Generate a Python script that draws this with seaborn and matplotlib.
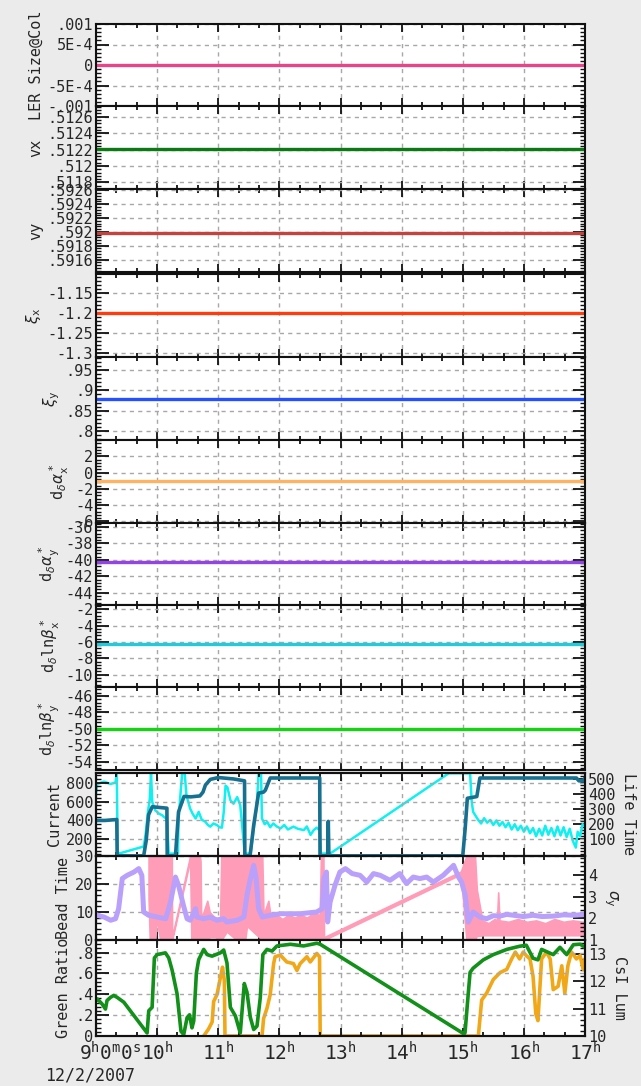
import matplotlib
matplotlib.use("Agg")
import matplotlib.pyplot as plt
import matplotlib.transforms as mtransforms
from matplotlib.ticker import AutoMinorLocator, MultipleLocator
import seaborn as sns

# ---------------- data (time in hours of 12/2/2007) ----------------
hours = [9, 10, 11, 12, 13, 14, 15, 16, 17]
hour_labels = [r'$\mathtt{9}^{\mathtt{h}}\mathtt{0}^{\mathtt{m}}\mathtt{0}^{\mathtt{s}}$'] + \
              [r'$\mathtt{%d}^{\mathtt{h}}$' % h for h in hours[1:]]
date_label = '12/2/2007'

span_t = [9.0, 17.0]
ler_size = [0.0, 0.0]
nu_x = [0.51221, 0.51221]
nu_y = [0.59199, 0.59199]
xi_x = [-1.2, -1.2]
xi_y = [0.880, 0.880]
dalpha_x = [-1.0, -1.0]
dalpha_y = [-40.3, -40.3]
dlnbeta_x = [-6.3, -6.3]
dlnbeta_y = [-50.0, -50.0]

# beam current (left) and life time (right)
current_t = [9.0, 9.15, 9.34, 9.346, 9.78, 9.82, 9.86, 9.92, 10.0, 10.16, 10.165, 10.30, 10.35,
             10.44, 10.55, 10.70, 10.75, 10.79, 10.87, 11.0, 11.25, 11.43, 11.435, 11.52, 11.58,
             11.66, 11.74, 11.77, 11.85, 12.0, 12.66, 12.665, 12.79, 12.80, 12.81, 15.0, 15.04,
             15.075, 15.23, 15.28, 16.0, 16.86, 16.9, 16.97, 17.0]
current = [400, 400, 410, 25, 25, 180, 460, 545, 540, 530, 25, 25, 490,
           655, 650, 660, 700, 775, 835, 855, 840, 820, 25, 25, 350,
           690, 700, 720, 850, 850, 850, 25, 25, 390, 25, 25, 317,
           635, 653, 850, 850, 850, 820, 820, 850]

life_t = [9.0, 9.02, 9.13, 9.24, 9.32, 9.34, 9.355, 9.40, 9.78, 9.81, 9.85, 9.88, 9.90, 9.92,
          9.97, 10.03, 10.08, 10.12, 10.16, 10.19, 10.34, 10.35, 10.41, 10.45, 10.48, 10.54,
          10.58, 10.63, 10.68, 10.73, 10.79, 10.83, 10.87, 10.92, 10.98, 11.02, 11.06, 11.09,
          11.12, 11.15, 11.20, 11.25, 11.31, 11.36, 11.42, 11.43, 11.53, 11.58, 11.63, 11.66,
          11.70, 11.715, 11.76, 11.80, 11.85, 11.90, 11.96, 12.02, 12.08, 12.14, 12.23, 12.30,
          12.40, 12.45, 12.51, 12.56, 12.61, 12.657, 12.68, 12.83, 14.77, 15.12, 15.147, 15.17,
          15.25, 15.30, 15.35, 15.40, 15.45, 15.50, 15.55, 15.60, 15.65, 15.70, 15.75, 15.80,
          15.85, 15.90, 15.95, 16.00, 16.05, 16.10, 16.15, 16.20, 16.25, 16.30, 16.35, 16.40,
          16.45, 16.50, 16.55, 16.60, 16.65, 16.70, 16.75, 16.80, 16.85, 16.88, 16.92, 16.96, 17.0]
life_time = [402, 467, 483, 467, 478, 540, 5, 8, 52, 129, 282, 369, 540, 348,
             292, 270, 260, 245, 238, 5, 5, 238, 540, 540, 391, 304,
             270, 238, 282, 230, 216, 195, 184, 205, 194, 180, 177, 282,
             456, 445, 358, 336, 380, 326, 63, 5, 5, 172, 326, 540,
             540, 238, 200, 216, 180, 205, 184, 172, 195, 165, 184, 170,
             161, 185, 129, 160, 177, 161, 5, 5, 538, 538, 348, 282,
             230, 205, 240, 210, 228, 195, 225, 190, 215, 180, 210, 165,
             200, 160, 190, 150, 185, 140, 175, 120, 170, 125, 190, 130,
             175, 120, 185, 125, 180, 115, 170, 90, 45, 150, 120, 200, 190]

# bead time (left, noisy band lo..hi) and sigma_y (right)
bead_t = [9.86, 9.88, 9.97, 9.99, 10.05, 10.09, 10.10, 10.24, 10.245, 10.54, 10.56, 10.70, 10.71,
          10.72, 10.76, 10.82, 10.86, 10.90, 10.95, 11.03, 11.05, 11.14, 11.30, 11.44, 11.47,
          11.72, 11.74, 11.82, 11.86, 11.95, 12.05, 12.15, 12.25, 12.35, 12.45, 12.55, 12.66,
          12.68, 12.72, 12.73, 14.97, 15.06, 15.20, 15.23, 15.28, 15.32, 15.42, 15.52, 15.56,
          15.58, 15.60, 15.75, 15.90, 16.05, 16.20, 16.35, 16.50, 16.65, 16.80, 16.97]
bead_lo = [15, 0, 0, 8, 0, 0, 0, 0, 0, 28.5, 0, 0, 0,
           0, 0, 0, 1, 1, 1, 0, 0, 3, 0, 0, 5,
           0, 0, 0, 0, 0, 0, 0, 0, 0, 0, 0, 0,
           0, 0, 0, 23.5, 0, 0, 1.5, 1.5, 1.7, 1.7, 1.7, 1.7,
           1.7, 1.7, 1.7, 1.7, 1.7, 1.7, 1.7, 1.7, 1.7, 1.7, 1.7]
bead_hi = [30, 30, 30, 30, 30, 30, 30, 30, 1, 30, 30, 30, 28,
           8, 10, 14, 10, 9, 8, 8, 30, 30, 30, 30, 30,
           30, 9, 14, 8, 9, 7.5, 9, 8, 9, 8, 9.5, 9,
           30, 30, 1, 24.5, 30, 30, 18, 12, 7, 6, 7.5, 7,
           17, 7, 6.5, 7.5, 6.5, 7, 6, 7.5, 6.5, 7, 6.5]

sigma_t = [9.0, 9.07, 9.13, 9.24, 9.32, 9.37, 9.43, 9.51, 9.62, 9.70, 9.75, 9.78, 9.86, 10.0,
           10.14, 10.22, 10.30, 10.35, 10.43, 10.49, 10.54, 10.63, 10.65, 10.76, 10.87, 10.98,
           11.09, 11.14, 11.31, 11.42, 11.47, 11.52, 11.58, 11.62, 11.66, 11.72, 11.85, 12.02,
           12.18, 12.34, 12.61, 12.70, 12.73, 12.77, 12.79, 12.83, 12.91, 12.99, 13.08, 13.19,
           13.32, 13.43, 13.54, 13.65, 13.81, 13.97, 14.08, 14.19, 14.30, 14.41, 14.52, 14.68,
           14.85, 14.93, 14.98, 15.04, 15.09, 15.17, 15.28, 15.39, 15.50, 15.61, 15.72, 15.83,
           15.99, 16.15, 16.30, 16.48, 16.65, 16.81, 16.97]
sigma_y = [2.17, 2.10, 2.06, 1.91, 1.98, 2.44, 3.83, 3.98, 4.13, 4.29, 3.98, 2.29, 2.14, 2.06,
           1.98, 2.75, 3.90, 3.52, 2.60, 1.98, 1.91, 2.44, 2.06, 1.98, 2.05, 1.91,
           1.98, 1.83, 1.91, 2.06, 3.06, 3.75, 4.44, 3.83, 2.44, 2.06, 2.14, 2.21,
           2.21, 2.21, 2.29, 2.44, 3.83, 4.13, 1.83, 2.75, 3.52, 4.13, 4.29, 4.06,
           3.98, 3.67, 4.06, 3.98, 3.75, 4.06, 3.60, 3.90, 3.83, 3.90, 3.67, 3.98,
           4.44, 3.90, 3.67, 3.06, 1.83, 2.29, 2.06, 1.98, 2.12, 2.10, 2.18, 2.14,
           2.08, 2.14, 2.08, 2.10, 2.16, 2.14, 2.17]

# green ratio (left) and CsI luminosity (right)
green_t = [9.0, 9.02, 9.10, 9.155, 9.18, 9.237, 9.29, 9.346, 9.455, 9.836, 9.863, 9.918, 9.955,
           10.0, 10.135, 10.19, 10.244, 10.326, 10.39, 10.435, 10.49, 10.53, 10.57, 10.599,
           10.642, 10.68, 10.762, 10.817, 10.899, 11.035, 11.089, 11.143, 11.198, 11.28, 11.36,
           11.426, 11.47, 11.524, 11.58, 11.634, 11.688, 11.73, 11.797, 11.88, 11.96, 12.18,
           12.395, 12.613, 12.668, 15.02, 15.037, 15.092, 15.12, 15.17, 15.337, 15.50, 15.72,
           15.93, 16.04, 16.15, 16.23, 16.29, 16.48, 16.59, 16.70, 16.81, 16.92, 17.0]
green_ratio = [0.34, 0.356, 0.307, 0.258, 0.34, 0.37, 0.389, 0.37, 0.324, 0.029, 0.242, 0.275, 0.748,
               0.78, 0.797, 0.748, 0.634, 0.405, 0.046, 0.013, 0.176, 0.203, 0.078, 0.144,
               0.601, 0.732, 0.83, 0.78, 0.765, 0.797, 0.824, 0.699, 0.275, 0.193, 0.029,
               0.503, 0.42, 0.18, 0.062, 0.095, 0.37, 0.781, 0.83, 0.814, 0.863, 0.879,
               0.863, 0.889, 0.879, 0.02, 0.03, 0.42, 0.61, 0.65, 0.73, 0.78, 0.83,
               0.86, 0.87, 0.745, 0.73, 0.83, 0.78, 0.85, 0.78, 0.875, 0.88, 0.85]

csi_t = [10.762, 10.84, 10.90, 10.925, 10.98, 11.035, 11.07, 11.10, 11.11, 11.716, 11.742,
         11.797, 11.85, 11.906, 11.93, 12.015, 12.12, 12.23, 12.287, 12.34, 12.45, 12.505,
         12.613, 12.657, 12.668, 15.255, 15.31, 15.39, 15.50, 15.61, 15.72, 15.80, 15.86,
         15.93, 15.99, 16.04, 16.10, 16.15, 16.195, 16.23, 16.29, 16.37, 16.43, 16.48,
         16.56, 16.62, 16.67, 16.72, 16.78, 16.86, 16.92, 16.97, 17.0]
csi_lum = [10.0, 10.25, 10.51, 11.26, 11.51, 12.13, 12.51, 12.01, 10.0, 10.0, 10.64,
           11.01, 11.51, 12.64, 12.89, 12.95, 12.70, 12.64, 12.39, 12.64, 12.89, 12.70,
           13.01, 12.89, 10.0, 10.0, 11.31, 11.56, 12.06, 12.31, 12.43, 12.81, 13.06,
           12.81, 13.06, 12.93, 12.81, 12.18, 10.81, 10.56, 12.81, 13.06, 12.81, 11.69,
           11.81, 12.56, 11.56, 12.56, 13.06, 12.81, 12.93, 12.43, 12.81]

# ---------------- style ----------------
sns.set_theme(style="ticks")
plt.rcParams['font.family'] = ['DejaVu Sans Mono', 'DejaVu Sans']
plt.rcParams['mathtext.fontset'] = 'dejavusans'
plt.rcParams['axes.linewidth'] = 1.5
plt.rcParams['axes.edgecolor'] = '#111111'

BG = '#ebebeb'
GRID = dict(color='#a8a8a8', linestyle=(0, (3, 3)), linewidth=1.0)

fig = plt.figure(figsize=(6.41, 10.86), dpi=100, facecolor=BG)
W, H = 641.0, 1086.0
X0, X1 = 96, 585


def make_axes(top, bottom):
    return fig.add_axes([X0 / W, 1 - bottom / H, (X1 - X0) / W, (bottom - top) / H])


def style_x(ax, show_labels=False, twin=False):
    ax.set_xlim(9, 17)
    ax.tick_params(axis='x', which='both', direction='in', top=True, bottom=True, color='#111111')
    ax.tick_params(axis='x', which='major', length=6, width=1.3)
    ax.tick_params(axis='x', which='minor', length=3, width=1.3)
    ax.set_xlabel('')
    if twin:
        return
    ax.set_xticks(hours)
    ax.xaxis.set_minor_locator(MultipleLocator(1 / 3))
    if show_labels:
        ax.set_xticklabels(hour_labels, fontsize=14)
        ax.tick_params(axis='x', which='major', pad=4)
        first = ax.get_xticklabels()[0]
        first.set_ha('left')
        first.set_transform(first.get_transform() +
                            mtransforms.ScaledTranslation(-0.17, 0, fig.dpi_scale_trans))
    else:
        ax.set_xticklabels([])


def style_y(ax, ticks, labels, ylim, side='left', both=True, nminor=5):
    ax.set_ylim(*ylim)
    ax.set_yticks(ticks)
    ax.set_yticklabels(labels, fontsize=11)
    ax.yaxis.set_minor_locator(AutoMinorLocator(nminor))
    if side == 'left':
        ax.tick_params(axis='y', which='both', direction='in', left=True, right=both,
                       labelleft=True, labelright=False, pad=2, color='#111111')
    else:
        ax.tick_params(axis='y', which='both', direction='in', left=False, right=True,
                       labelleft=False, labelright=True, pad=2, color='#111111')
    ax.tick_params(axis='y', which='major', length=9, width=1.3)
    ax.tick_params(axis='y', which='minor', length=3.5, width=1.0)


# ---------------- nine constant parameter panels ----------------
top_panels = [
    (24, 106, ler_size, '#e8448c', 'LER Size@Col', (-0.001, 0.001),
     [0.001, 5e-4, 0, -5e-4, -0.001], ['.001', '5E-4', '0', '-5E-4', '-.001']),
    (106, 189, nu_x, '#0b7a12', 'vx', (0.51172, 0.51273),
     [0.5118, 0.512, 0.5122, 0.5124, 0.5126], ['.5118', '.512', '.5122', '.5124', '.5126']),
    (189, 272, nu_y, '#c2443e', 'vy', (0.59142, 0.59262),
     [0.5916, 0.5918, 0.592, 0.5922, 0.5924, 0.5926],
     ['.5916', '.5918', '.592', '.5922', '.5924', '.5926']),
    (274, 357, xi_x, '#ff3c10', r'$\xi_{\mathtt{x}}$', (-1.31, -1.1025),
     [-1.3, -1.25, -1.2, -1.15], ['-1.3', '-1.25', '-1.2', '-1.15']),
    (357, 440, xi_y, '#2450ff', r'$\xi_{\mathtt{y}}$', (0.778, 0.982),
     [0.8, 0.85, 0.9, 0.95], ['.8', '.85', '.9', '.95']),
    (440, 523, dalpha_x, '#ffb262', r'$\mathtt{d}_\delta\alpha^*_{\mathtt{x}}$', (-6.2, 4.0),
     [-6, -4, -2, 0, 2], ['-6', '-4', '-2', '0', '2']),
    (523, 605, dalpha_y, '#9444e6', r'$\mathtt{d}_\delta\alpha^*_{\mathtt{y}}$', (-45.5, -35.5),
     [-44, -42, -40, -38, -36], ['-44', '-42', '-40', '-38', '-36']),
    (605, 687, dlnbeta_x, '#22cadb', r'$\mathtt{d}_\delta\mathtt{ln}\beta^*_{\mathtt{x}}$', (-11.5, -1.5),
     [-10, -8, -6, -4, -2], ['-10', '-8', '-6', '-4', '-2']),
    (687, 770, dlnbeta_y, '#14d414', r'$\mathtt{d}_\delta\mathtt{ln}\beta^*_{\mathtt{y}}$', (-55, -44.9),
     [-54, -52, -50, -48, -46], ['-54', '-52', '-50', '-48', '-46']),
]

for top, bottom, vals, color, label, ylim, ticks, tlabels in top_panels:
    ax = make_axes(top, bottom)
    ax.set_facecolor('white')
    sns.lineplot(x=span_t, y=vals, ax=ax, color=color, linewidth=2.4, legend=False)
    ax.grid(True, which='major', **GRID)
    style_x(ax)
    style_y(ax, ticks, tlabels, ylim)
    ax.set_ylabel(label, fontsize=11, labelpad=3)

# ---------------- current / life time ----------------
ax_c = make_axes(773, 856)
ax_l = ax_c.twinx()
ax_c.set_zorder(ax_l.get_zorder() + 1)
ax_c.patch.set_visible(False)
ax_l.patch.set_visible(True)
ax_l.set_facecolor('white')
sns.lineplot(x=life_t, y=life_time, ax=ax_l, color='#10f0f0', linewidth=1.8,
             estimator=None, sort=False, legend=False)
sns.lineplot(x=current_t, y=current, ax=ax_c, color='#17708f', linewidth=2.6,
             estimator=None, sort=False, legend=False)
ax_c.grid(True, which='major', **GRID)
style_x(ax_c)
style_x(ax_l, twin=True)
style_y(ax_c, [200, 400, 600, 800], ['200', '400', '600', '800'], (23, 903), both=False)
style_y(ax_l, [100, 200, 300, 400, 500], ['100', '200', '300', '400', '500'], (-11, 540), side='right')
ax_c.set_ylabel('Current', fontsize=11, labelpad=3)
ax_l.set_ylabel('Life Time', fontsize=11, rotation=270, va='bottom', labelpad=4)

# ---------------- bead time / sigma_y ----------------
ax_b = make_axes(856, 940)
ax_s = ax_b.twinx()
ax_b.set_facecolor('white')
ax_b.fill_between(bead_t, bead_lo, bead_hi, color='#ff9cb8', linewidth=1.2, edgecolor='#ff9cb8')
sns.lineplot(x=sigma_t, y=sigma_y, ax=ax_s, color='#b9a0fa', linewidth=3.6,
             estimator=None, sort=False, legend=False)
ax_b.grid(True, which='major', **GRID)
style_x(ax_b)
style_x(ax_s, twin=True)
style_y(ax_b, [0, 10, 20, 30], ['0', '10', '20', '30'], (0, 30), both=False)
style_y(ax_s, [1, 2, 3, 4], ['1', '2', '3', '4'], (1, 4.87), side='right')
ax_b.set_ylabel('Bead Time', fontsize=11, labelpad=3)
ax_s.set_ylabel(r'$\sigma_{\mathtt{y}}$', fontsize=11, rotation=270, va='bottom', labelpad=4)

# ---------------- green ratio / CsI lum ----------------
ax_g = make_axes(940, 1036)
ax_i = ax_g.twinx()
ax_g.set_zorder(ax_i.get_zorder() + 1)
ax_g.patch.set_visible(False)
ax_i.patch.set_visible(True)
ax_i.set_facecolor('white')
sns.lineplot(x=csi_t, y=csi_lum, ax=ax_i, color='#f0a818', linewidth=2.6,
             estimator=None, sort=False, legend=False)
sns.lineplot(x=green_t, y=green_ratio, ax=ax_g, color='#12901a', linewidth=2.6,
             estimator=None, sort=False, legend=False)
ax_g.grid(True, which='major', **GRID)
style_x(ax_i, twin=True)
style_x(ax_g, show_labels=True)
style_y(ax_g, [0, 0.2, 0.4, 0.6, 0.8], ['0', '.2', '.4', '.6', '.8'], (0, 0.92), both=False)
style_y(ax_i, [10, 11, 12, 13], ['10', '11', '12', '13'], (10, 13.5), side='right')
ax_g.set_ylabel('Green Ratio', fontsize=11, labelpad=3)
ax_i.set_ylabel('CsI Lum', fontsize=11, rotation=270, va='bottom', labelpad=4)

fig.text(45 / W, 1 - 1076 / H, date_label, fontsize=12, ha='left', va='center')

plt.savefig('out.png', dpi=100, facecolor=BG)
